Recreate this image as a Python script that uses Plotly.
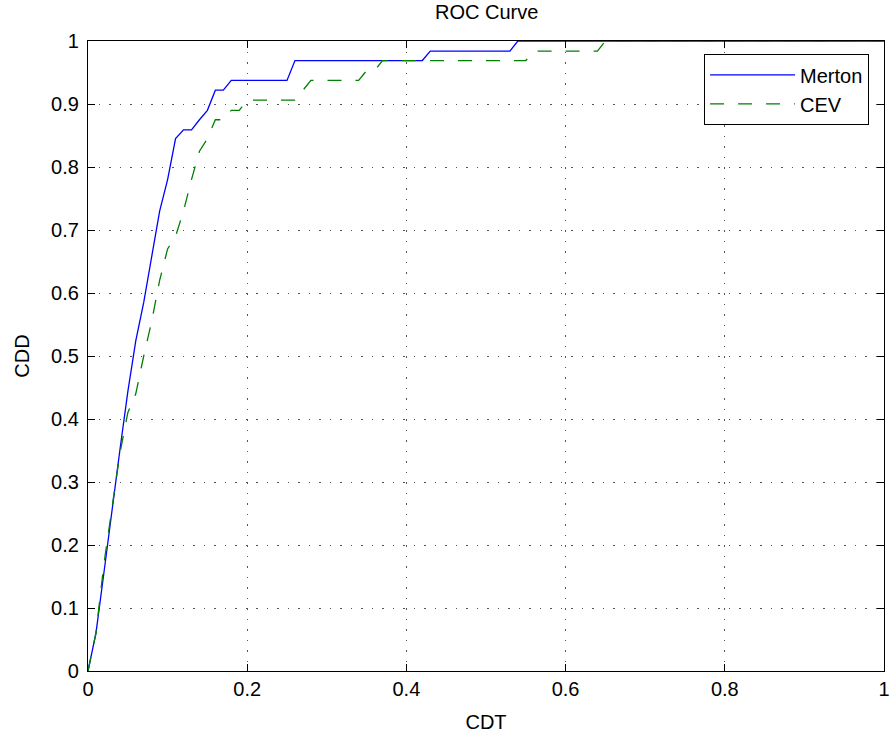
import plotly.graph_objects as go

# ROC points
merton_cdt = [0, 0.01, 0.02, 0.03, 0.04, 0.05, 0.06, 0.07, 0.08, 0.09, 0.10, 0.11, 0.12,
              0.13, 0.14, 0.15, 0.16, 0.17, 0.18, 0.25, 0.26, 0.42, 0.43, 0.53, 0.54, 1.0]
merton_cdd = [0, 0.06, 0.156, 0.257, 0.35, 0.443, 0.524, 0.585, 0.658, 0.73, 0.78, 0.845, 0.859,
              0.859, 0.875, 0.89, 0.922, 0.922, 0.9375, 0.9375, 0.969, 0.969, 0.984, 0.984, 1.0, 1.0]

cev_cdt = [0, 0.01, 0.02, 0.03, 0.04, 0.05, 0.06, 0.07, 0.08, 0.09, 0.10, 0.11, 0.12, 0.13,
           0.14, 0.15, 0.16, 0.17, 0.18, 0.19, 0.20, 0.26, 0.27, 0.28, 0.34, 0.35, 0.36, 0.37,
           0.55, 0.56, 0.64, 0.65, 1.0]
cev_cdd = [0, 0.06, 0.17, 0.26, 0.345, 0.41, 0.44, 0.5, 0.555, 0.62, 0.67, 0.69, 0.73, 0.78,
           0.825, 0.845, 0.875, 0.875, 0.89, 0.89, 0.906, 0.906, 0.922, 0.9375, 0.9375, 0.953,
           0.953, 0.969, 0.969, 0.984, 0.984, 1.0, 1.0]

x_ticks = [0, 0.2, 0.4, 0.6, 0.8, 1]
x_labels = ["0", "0.2", "0.4", "0.6", "0.8", "1"]
y_ticks = [0, 0.1, 0.2, 0.3, 0.4, 0.5, 0.6, 0.7, 0.8, 0.9, 1]
y_labels = ["0", "0.1", "0.2", "0.3", "0.4", "0.5", "0.6", "0.7", "0.8", "0.9", "1"]

font_family = "Liberation Sans, Arial, sans-serif"

fig = go.Figure()
fig.add_trace(go.Scatter(x=merton_cdt, y=merton_cdd, mode="lines", name="Merton",
                         line=dict(color="#0000ff", width=1.3)))
fig.add_trace(go.Scatter(x=cev_cdt, y=cev_cdd, mode="lines", name="CEV",
                         line=dict(color="#008000", width=1.3, dash="14px,14px")))

axis_common = dict(
    range=[0, 1], showline=True, linecolor="black", linewidth=1.2, mirror="ticks",
    ticks="inside", ticklen=7, tickcolor="black", tickwidth=1,
    showgrid=True, gridcolor="#555555", gridwidth=1, griddash="1.5px,9px",
    zeroline=False, tickfont=dict(size=20, color="black"), automargin=False,
)

fig.update_xaxes(**axis_common, tickvals=x_ticks, ticktext=x_labels,
                 title=dict(text="CDT", font=dict(size=20, color="black"), standoff=15))
fig.update_yaxes(**axis_common, tickvals=y_ticks, ticktext=y_labels, ticklabelstandoff=4,
                 title=dict(text="CDD", font=dict(size=20, color="black"), standoff=16))

fig.update_layout(
    width=890, height=735,
    margin=dict(l=88, r=6, t=41, b=64),
    paper_bgcolor="white", plot_bgcolor="white",
    font=dict(family=font_family, size=20, color="black"),
    title=dict(text="ROC Curve", x=0.5469, xanchor="center", xref="container",
               y=1 - 12 / 735, yanchor="middle", font=dict(size=20, color="black"),
               automargin=False),
    legend=dict(x=0.981, y=0.979, xanchor="right", yanchor="top",
                bgcolor="white", bordercolor="black", borderwidth=1.2,
                font=dict(size=20, color="black"), tracegroupgap=0,
                itemwidth=85),
    showlegend=True,
)

# drop the page's default body margin so the figure sits at the window's corner
fig.write_html("out.html", config={"displayModeBar": False},
               post_script="document.body.style.margin='0';")
